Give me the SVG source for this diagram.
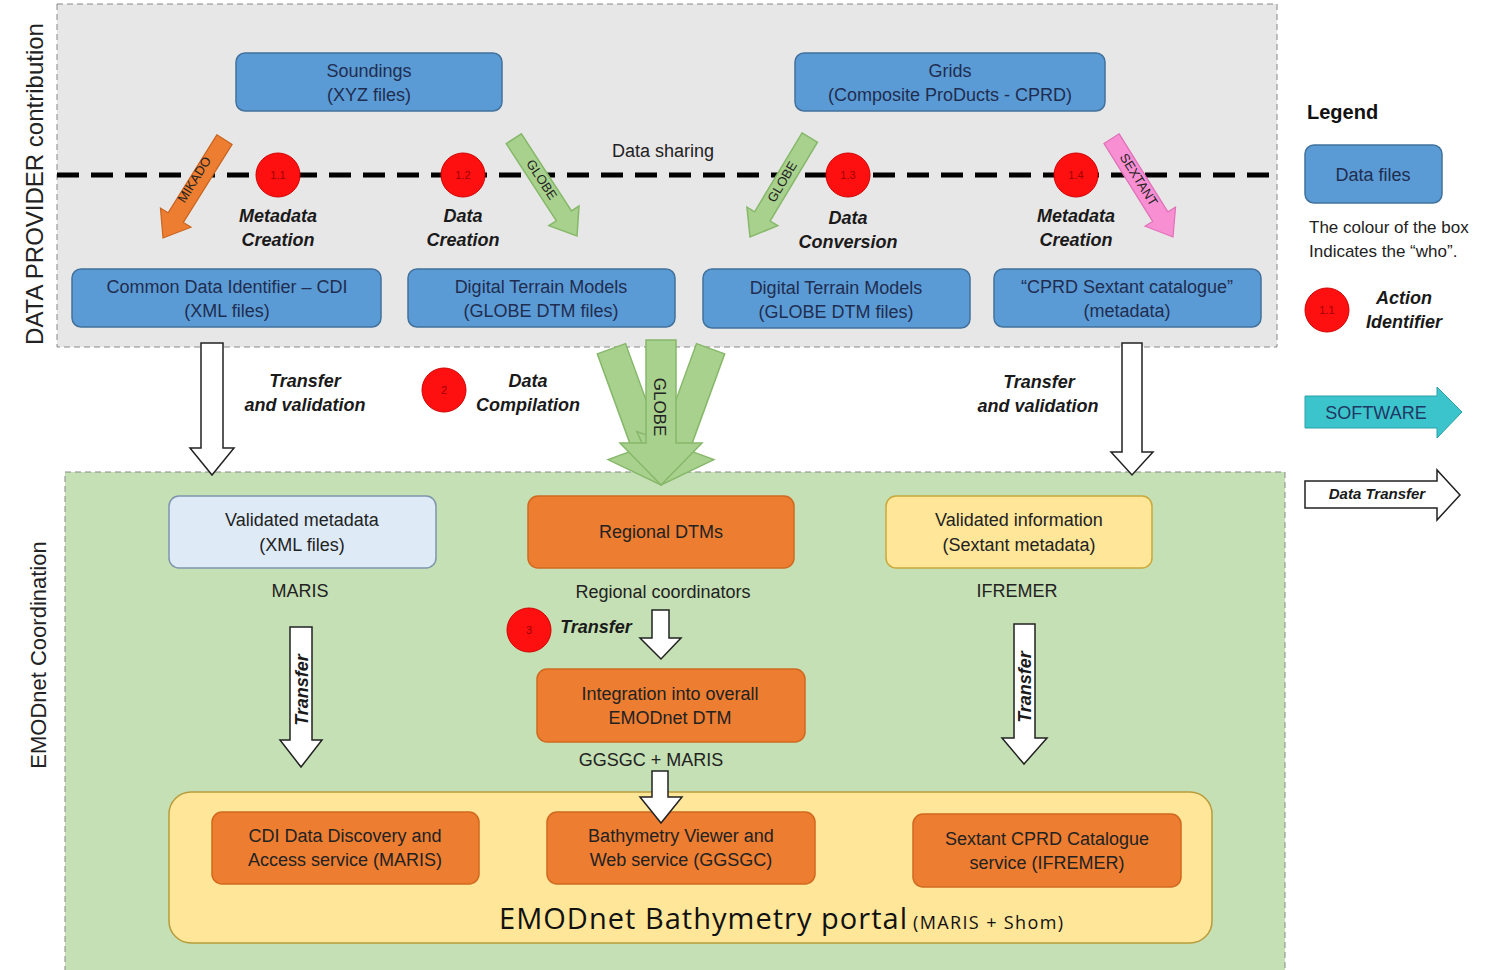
<svg xmlns="http://www.w3.org/2000/svg" width="1493" height="970" viewBox="0 0 1493 970">
<defs>
<style>
.t{font-family:"Liberation Sans",Arial,sans-serif;font-size:18px;text-anchor:middle;fill:#222}
.tb{fill:#1f2d50}
.bi{font-family:"Liberation Sans",Arial,sans-serif;font-size:18px;font-weight:bold;font-style:italic;text-anchor:middle;fill:#1a1a1a}
.blue{fill:#5b9bd5;stroke:#41719c;stroke-width:1.5}
.orange{fill:#ed7d31;stroke:#d0691f;stroke-width:1.5}
.lblue{fill:#deebf7;stroke:#7f95ad;stroke-width:1.5}
.yel{fill:#ffe699;stroke:#c9a93a;stroke-width:1.5}
.red{fill:#ff1010;stroke:#d00000;stroke-width:1}
.num{font-family:"Liberation Sans",Arial,sans-serif;font-size:11px;text-anchor:middle;fill:#a00000}
.wa{fill:#ffffff;stroke:#222;stroke-width:1.5}
.ga{fill:#a9d18e;stroke:#86b86a;stroke-width:1.5}
.at{font-family:"Liberation Sans",Arial,sans-serif;font-size:13px;text-anchor:middle;fill:#222}
</style>
<path id="sa" d="M-9,-116 L9,-116 L9,-24 L18,-24 L0,0 L-18,-24 L-9,-24 Z"/>
<path id="ba" d="M-15,-145 L15,-145 L15,-42 L41,-42 L0,0 L-41,-42 L-15,-42 Z"/>
</defs>
<rect width="1493" height="970" fill="#ffffff"/>

<g id="panels">
<rect x="57" y="4" width="1220" height="343" fill="#e8e7e7" stroke="#888" stroke-width="1" stroke-dasharray="6 4"/>
<rect x="65" y="472" width="1220" height="510" fill="#c5e0b4" stroke="#888" stroke-width="1" stroke-dasharray="6 4"/>
<text class="t" transform="translate(43,184) rotate(-90)" style="font-size:24px">DATA PROVIDER contribution</text>
<text class="t" transform="translate(46,655) rotate(-90)" style="font-size:22px">EMODnet Coordination</text>
<line x1="57" y1="175" x2="1277" y2="175" stroke="#000" stroke-width="5" stroke-dasharray="22 12"/>
<text class="t" x="663" y="157">Data sharing</text>
</g>

<g id="soundings"><rect class="blue" x="236" y="53" width="266" height="58" rx="9"/><text class="t tb" x="369" y="77">Soundings</text><text class="t tb" x="369" y="101">(XYZ files)</text></g>
<g id="grids"><rect class="blue" x="795" y="53" width="310" height="58" rx="9"/><text class="t tb" x="950" y="77">Grids</text><text class="t tb" x="950" y="101">(Composite ProDucts - CPRD)</text></g>
<g id="cdi"><rect class="blue" x="72" y="269" width="309" height="58" rx="9"/><text class="t tb" x="227" y="293">Common Data Identifier – CDI</text><text class="t tb" x="227" y="317">(XML files)</text></g>
<g id="dtm1"><rect class="blue" x="408" y="269" width="267" height="58" rx="9"/><text class="t tb" x="541" y="293">Digital Terrain Models</text><text class="t tb" x="541" y="317">(GLOBE DTM files)</text></g>
<g id="dtm2"><rect class="blue" x="703" y="269" width="267" height="59" rx="9"/><text class="t tb" x="836" y="294">Digital Terrain Models</text><text class="t tb" x="836" y="318">(GLOBE DTM files)</text></g>
<g id="cprd"><rect class="blue" x="994" y="269" width="267" height="58" rx="9"/><text class="t tb" x="1127" y="293">“CPRD Sextant catalogue”</text><text class="t tb" x="1127" y="317">(metadata)</text></g>

<g id="a11"><circle class="red" cx="278" cy="175" r="22"/><text class="num" x="278" y="179">1.1</text><text class="bi" x="278" y="222">Metadata</text><text class="bi" x="278" y="246">Creation</text></g>
<g id="a12"><circle class="red" cx="463" cy="175" r="22"/><text class="num" x="463" y="179">1.2</text><text class="bi" x="463" y="222">Data</text><text class="bi" x="463" y="246">Creation</text></g>
<g id="a13"><circle class="red" cx="848" cy="175" r="22"/><text class="num" x="848" y="179">1.3</text><text class="bi" x="848" y="224">Data</text><text class="bi" x="848" y="248">Conversion</text></g>
<g id="a14"><circle class="red" cx="1076" cy="175" r="22"/><text class="num" x="1076" y="179">1.4</text><text class="bi" x="1076" y="222">Metadata</text><text class="bi" x="1076" y="246">Creation</text></g>

<g id="valmeta"><rect class="lblue" x="169" y="496" width="267" height="72" rx="10"/><text class="t" x="302" y="526">Validated metadata</text><text class="t" x="302" y="551">(XML files)</text><text class="t" x="300" y="597">MARIS</text></g>
<g id="regdtm"><rect class="orange" x="528" y="496" width="266" height="72" rx="10"/><text class="t" x="661" y="538">Regional DTMs</text><text class="t" x="663" y="598">Regional coordinators</text></g>
<g id="valinfo"><rect class="yel" x="886" y="496" width="266" height="72" rx="10"/><text class="t" x="1019" y="526">Validated information</text><text class="t" x="1019" y="551">(Sextant metadata)</text><text class="t" x="1017" y="597">IFREMER</text></g>
<g id="a2"><circle class="red" cx="444" cy="390" r="22"/><text class="num" x="444" y="394">2</text><text class="bi" x="528" y="387">Data</text><text class="bi" x="528" y="411">Compilation</text></g>
<g id="a3"><circle class="red" cx="529" cy="630" r="22"/><text class="num" x="529" y="634">3</text><text class="bi" x="596" y="633">Transfer</text></g>
<g id="integ"><rect class="orange" x="537" y="669" width="268" height="73" rx="10"/><text class="t" x="670" y="700">Integration into overall</text><text class="t" x="670" y="724">EMODnet DTM</text><text class="t" x="651" y="766">GGSGC + MARIS</text></g>

<g id="portal">
<rect x="169" y="792" width="1043" height="151" rx="22" fill="#ffe699" stroke="#b89c3c" stroke-width="1.5"/>
<text x="499" y="929" style="font-family:'Open Sans','Liberation Sans',sans-serif;font-size:29px;fill:#111" textLength="408">EMODnet Bathymetry portal</text>
<text x="913" y="929" style="font-family:'Open Sans','Liberation Sans',sans-serif;font-size:18px;fill:#111" textLength="150">(MARIS + Shom)</text>
</g>
<g id="cdiservice"><rect class="orange" x="212" y="812" width="267" height="72" rx="10"/><text class="t" x="345" y="842">CDI Data Discovery and</text><text class="t" x="345" y="866">Access service (MARIS)</text></g>
<g id="bathyviewer"><rect class="orange" x="547" y="812" width="268" height="72" rx="10"/><text class="t" x="681" y="842">Bathymetry Viewer and</text><text class="t" x="681" y="866">Web service (GGSGC)</text></g>
<g id="sextantservice"><rect class="orange" x="913" y="814" width="268" height="73" rx="10"/><text class="t" x="1047" y="845">Sextant CPRD Catalogue</text><text class="t" x="1047" y="869">service (IFREMER)</text></g>

<g id="connectors">
<use href="#sa" transform="translate(163,238) rotate(32)" fill="#ed7d31" stroke="#c8651f" stroke-width="1.2"/>
<text class="at" transform="translate(198,182) rotate(-58)">MIKADO</text>
<use href="#sa" transform="translate(577,236) rotate(-33)" class="ga"/>
<text class="at" transform="translate(538,182) rotate(57)">GLOBE</text>
<use href="#sa" transform="translate(750,237) rotate(31)" class="ga"/>
<text class="at" transform="translate(786,184) rotate(-59)">GLOBE</text>
<use href="#sa" transform="translate(1173,237) rotate(-32)" fill="#f78fd2" stroke="#e070b8" stroke-width="1.2"/>
<text class="at" transform="translate(1135,182) rotate(58)">SEXTANT</text>

<path class="wa" d="M201,343 L223,343 L223,448 L234,448 L212,475 L190,448 L201,448 Z"/>
<text class="bi" x="305" y="387">Transfer</text><text class="bi" x="305" y="411">and validation</text>
<path class="wa" d="M1122,343 L1142,343 L1142,452 L1153,452 L1132,475 L1111,452 L1122,452 Z"/>
<text class="bi" x="1039" y="388">Transfer</text><text class="bi" x="1038" y="412">and validation</text>

<use href="#ba" transform="translate(661,485) rotate(-20)" class="ga"/>
<use href="#ba" transform="translate(661,485) rotate(20)" class="ga"/>
<use href="#ba" transform="translate(661,485)" class="ga"/>
<text class="t" transform="translate(654,407) rotate(90)" style="font-size:17px">GLOBE</text>

<path class="wa" d="M290,627 L312,627 L312,740 L322,740 L301,767 L280,740 L290,740 Z"/>
<text class="bi" transform="translate(308,690) rotate(-90)">Transfer</text>
<path class="wa" d="M1014,624 L1035,624 L1035,738 L1047,738 L1024,764 L1002,738 L1014,738 Z"/>
<text class="bi" transform="translate(1031,687) rotate(-90)">Transfer</text>
<path class="wa" d="M652,610 L669,610 L669,638 L681,638 L661,659 L640,638 L652,638 Z"/>
<path class="wa" d="M652,771 L668,771 L668,797 L682,797 L661,823 L640,797 L652,797 Z"/>
</g>

<g id="legend">
<text x="1307" y="119" style="font-family:'Liberation Sans',Arial,sans-serif;font-size:20px;font-weight:bold;fill:#111">Legend</text>
<rect class="blue" x="1305" y="145" width="137" height="58" rx="9"/>
<text class="t tb" x="1373" y="181">Data files</text>
<text x="1309" y="233" style="font-family:'Liberation Sans',Arial,sans-serif;font-size:17px;fill:#222">The colour of the box</text>
<text x="1309" y="257" style="font-family:'Liberation Sans',Arial,sans-serif;font-size:17px;fill:#222">Indicates the “who”.</text>
<circle class="red" cx="1327" cy="310" r="22"/><text class="num" x="1327" y="314">1.1</text>
<text class="bi" x="1404" y="304">Action</text><text class="bi" x="1404" y="328">Identifier</text>
<path d="M1305,396 L1437,396 L1437,387 L1462,412 L1437,438 L1437,428 L1305,428 Z" fill="#3cc4cc" stroke="#2aa0a8" stroke-width="1"/>
<text class="t" x="1376" y="419" style="fill:#1f3864">SOFTWARE</text>
<path class="wa" d="M1305,481 L1437,481 L1437,470 L1460,495 L1437,520 L1437,508 L1305,508 Z"/>
<text class="bi" x="1377" y="499" style="font-size:15px">Data Transfer</text>
</g>
</svg>
